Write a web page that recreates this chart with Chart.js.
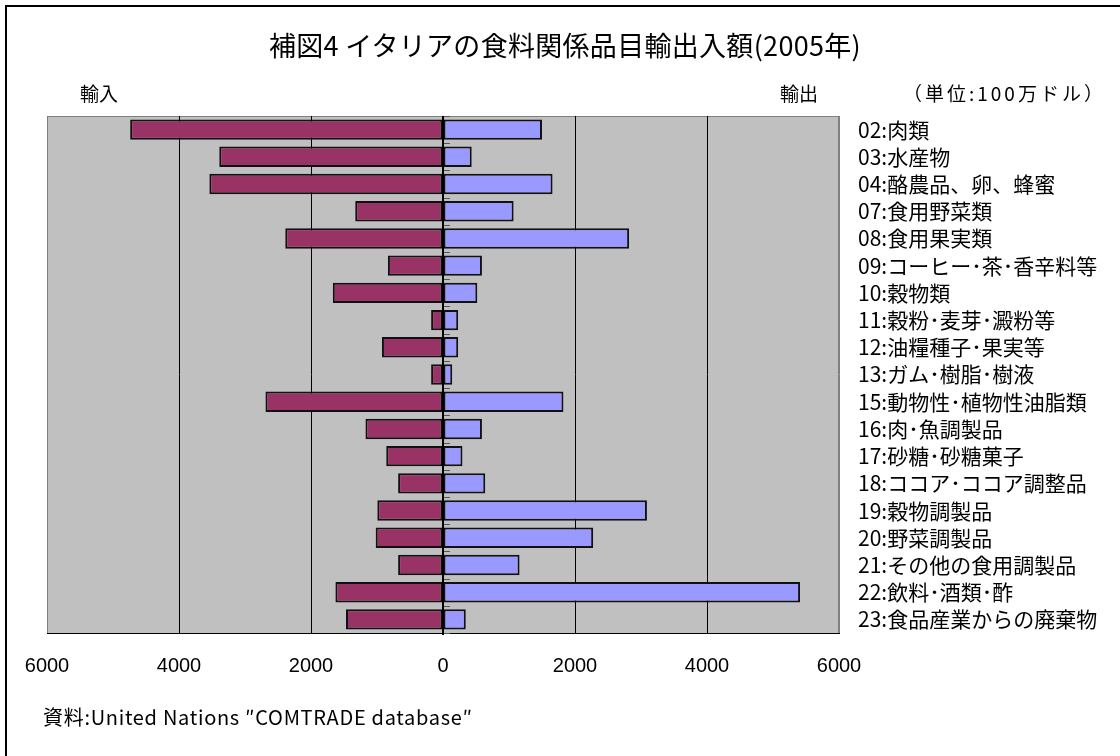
<!DOCTYPE html>
<html lang="ja">
<head>
    <meta charset="UTF-8">
    <title>補図4 イタリアの食料関係品目輸出入額(2005年)</title>

    <!-- Include Chart.js -->
    <script src="https://cdn.jsdelivr.net/npm/chart.js"></script>

    <style>
        body {
            margin: 0;
            padding: 0;
            background-color: #ffffff;
            font-family: "Noto Sans CJK JP", sans-serif;
            color: #000;
        }

        #wrap {
            position: relative;
            width: 1120px;
            height: 756px;
            overflow: hidden;
        }

        /* outer frame, only top and left edges fall inside the page */
        #frame {
            position: absolute;
            left: 5px;
            top: 5px;
            width: 1300px;
            height: 900px;
            border-top: 2px solid #000;
            border-left: 2px solid #000;
        }

        #myChart {
            position: absolute;
            left: 0;
            top: 0;
        }

        .txt {
            position: absolute;
            white-space: nowrap;
            line-height: 1;
        }

        #title { left: 0; width: 1130px; text-align: center; top: 31px; font-size: 27px; letter-spacing: 0.3px; }
        #imp { left: 80px; top: 83px; font-size: 19px; }
        #exp { left: 780px; top: 83px; font-size: 19px; }
        #unit { left: 903px; top: 83px; font-size: 19px; letter-spacing: 3px; }
        #src { left: 43px; top: 707px; font-size: 20px; letter-spacing: 0.7px; }
    </style>
</head>
<body>
    <div id="wrap">
        <div id="frame"></div>
        <canvas id="myChart" width="1120" height="756"></canvas>
        <div class="txt" id="title">補図4 イタリアの食料関係品目輸出入額(2005年)</div>
        <div class="txt" id="imp">輸入</div>
        <div class="txt" id="exp">輸出</div>
        <div class="txt" id="unit">（単位:100万ドル）</div>
        <div class="txt" id="src">資料:United Nations ″COMTRADE database″</div>
    </div>

    <script>
        // Categories (HS codes), top to bottom
        var categories = [
            '02:肉類', '03:水産物', '04:酪農品、卵、蜂蜜', '07:食用野菜類', '08:食用果実類',
            '09:コーヒー･茶･香辛料等', '10:穀物類', '11:穀粉･麦芽･澱粉等', '12:油糧種子･果実等',
            '13:ガム･樹脂･樹液', '15:動物性･植物性油脂類', '16:肉･魚調製品', '17:砂糖･砂糖菓子',
            '18:ココア･ココア調整品', '19:穀物調製品', '20:野菜調製品', '21:その他の食用調製品',
            '22:飲料･酒類･酢', '23:食品産業からの廃棄物'
        ];

        // Imports (million USD), drawn to the left
        var imports = [4740, 3390, 3540, 1330, 2390, 835, 1670, 180, 925, 180,
                       2690, 1175, 860, 680, 995, 1020, 680, 1630, 1470];

        // Exports (million USD), drawn to the right
        var exports = [1500, 435, 1660, 1070, 2820, 590, 520, 230, 230, 140,
                       1825, 590, 295, 640, 3090, 2275, 1160, 5410, 345];

        // Axis ticks
        var tickMin = -6000;
        var tickMax = 6000;
        var tickStep = 2000;

        var fontJP = '"Noto Sans CJK JP", sans-serif';

        // Grey plot area, frame, zero axis and its small category ticks
        var plotFrame = {
            id: 'plotFrame',
            beforeDraw: function(chart) {
                var ctx = chart.ctx, a = chart.chartArea;
                ctx.save();
                ctx.fillStyle = '#c0c0c0';
                ctx.fillRect(a.left, a.top, a.right - a.left, a.bottom - a.top);
                ctx.strokeStyle = '#808080';
                ctx.lineWidth = 1;
                ctx.strokeRect(a.left + 0.5, a.top + 0.5, a.right - a.left - 1, a.bottom - a.top);
                ctx.restore();
            },
            beforeDatasetsDraw: function(chart) {
                var ctx = chart.ctx, y = chart.scales.y;
                var x0 = Math.round(chart.scales.x.getPixelForValue(0));
                ctx.save();
                ctx.strokeStyle = '#555';
                ctx.lineWidth = 1;
                for (var i = 0; i <= categories.length; i++) {
                    var py = Math.round(y.getPixelForValue(i - 0.5)) + 0.5;
                    ctx.beginPath();
                    ctx.moveTo(x0, py);
                    ctx.lineTo(x0 + 7, py);
                    ctx.stroke();
                }
                ctx.restore();
            },
            afterDatasetsDraw: function(chart) {
                var ctx = chart.ctx, a = chart.chartArea;
                var x0 = Math.round(chart.scales.x.getPixelForValue(0));
                ctx.save();
                ctx.strokeStyle = '#000';
                ctx.lineWidth = 2;
                ctx.beginPath();
                ctx.moveTo(x0, a.top);
                ctx.lineTo(x0, a.bottom + 2);
                ctx.stroke();
                ctx.restore();
            }
        };

        var ctx = document.getElementById('myChart').getContext('2d');
        var myChart = new Chart(ctx, {
            type: 'bar',
            data: {
                labels: categories,
                datasets: [{
                    label: '輸入',
                    data: imports.map(function(v) { return -v; }),
                    backgroundColor: '#993366',
                    borderColor: '#111',
                    borderWidth: 2,
                    borderSkipped: false
                }, {
                    label: '輸出',
                    data: exports,
                    backgroundColor: '#9999ff',
                    borderColor: '#111',
                    borderWidth: 2,
                    borderSkipped: false
                }]
            },
            options: {
                indexAxis: 'y',
                responsive: false,
                animation: false,
                devicePixelRatio: 1,
                layout: {
                    padding: { left: 47, top: 116, right: 0, bottom: 0 }
                },
                datasets: {
                    bar: { categoryPercentage: 1.0, barPercentage: 0.75 }
                },
                plugins: {
                    legend: { display: false },
                    tooltip: { enabled: false }
                },
                scales: {
                    x: {
                        stacked: true,
                        min: tickMin,
                        max: tickMax,
                        afterFit: function(scale) { scale.height = 123; },
                        ticks: {
                            stepSize: tickStep,
                            color: '#000',
                            padding: 21,
                            font: { family: '"Liberation Sans", Arial, sans-serif', size: 20 },
                            callback: function(v) { return Math.abs(v); }
                        },
                        grid: {
                            drawTicks: false,
                            color: function(c) {
                                var v = c.tick ? c.tick.value : 0;
                                return Math.abs(v) === tickMax ? '#808080' : '#000';
                            }
                        },
                        border: { display: true, color: '#000', width: 1 }
                    },
                    y: {
                        stacked: true,
                        position: 'right',
                        afterFit: function(scale) { scale.width = 281; },
                        ticks: {
                            color: '#000',
                            padding: 19,
                            autoSkip: false,
                            font: { family: fontJP, size: 21 }
                        },
                        grid: { display: false, drawTicks: false },
                        border: { display: false }
                    }
                }
            },
            plugins: [plotFrame]
        });
    </script>
</body>
</html>
